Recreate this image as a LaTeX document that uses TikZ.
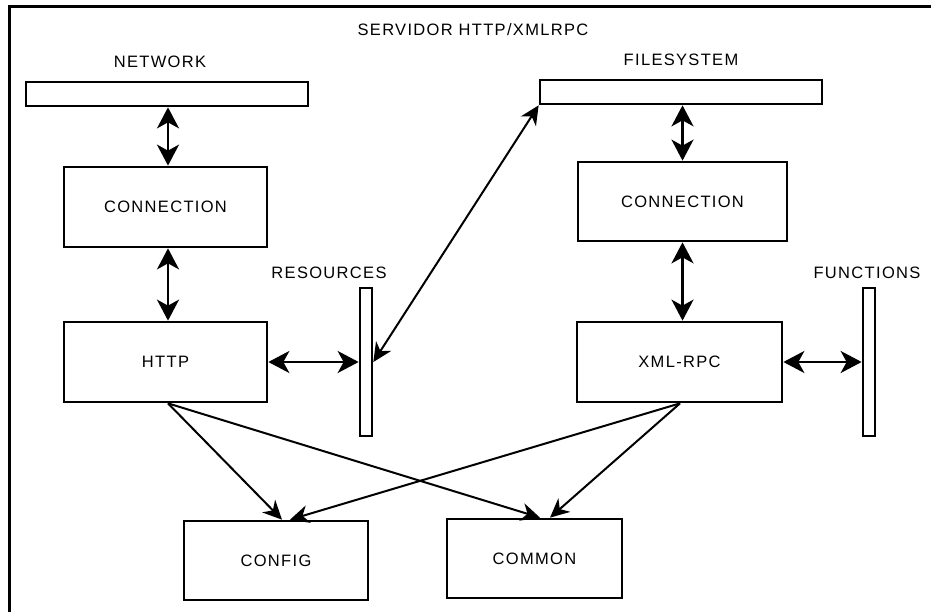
\documentclass[tikz,border=0pt]{standalone}
\usepackage{fontspec}
\setmainfont{Liberation Sans}[LetterSpace=8]
\usetikzlibrary{arrows.meta}
\tikzset{
  box/.style={draw, line width=2.7pt, rectangle, inner sep=0pt, font=\fontsize{16.5}{18}\selectfont},
  lbl/.style={inner sep=0pt, font=\fontsize{16.5}{18}\selectfont},
  dbl/.style={line width=2.6pt, {Stealth[length=21pt,width=22pt,inset=6pt]}-{Stealth[length=21pt,width=22pt,inset=6pt]}},
  dbl2/.style={line width=2pt, {Stealth[length=19pt,width=18pt,inset=6pt]}-{Stealth[length=19pt,width=18pt,inset=6pt]}},
  one/.style={line width=2pt, -{Stealth[length=19pt,width=18pt,inset=6pt]}}
}
\begin{document}
\begin{tikzpicture}[x=1pt,y=-1pt]
\useasboundingbox (0,0) rectangle (931,612);
\draw[line width=3pt] (9.5,612) -- (9.5,6.5) -- (931,6.5);
\node[lbl] (title) at (473,30) {SERVIDOR HTTP/XMLRPC};
\node[lbl] (netl) at (160,62) {NETWORK};
\node[lbl] (fsl) at (681,60) {FILESYSTEM};
\node[lbl] (resl) at (329,273) {RESOURCES};
\node[lbl] (funl) at (867,273) {FUNCTIONS};
\node[box, minimum width=282pt, minimum height=24pt] (net) at (167,94) {};
\node[box, minimum width=282pt, minimum height=24pt] (fs) at (681,92) {};
\node[box, minimum width=203pt, minimum height=80pt] (conn1) at (165.5,207) {CONNECTION};
\node[box, minimum width=209pt, minimum height=79pt] (conn2) at (682.5,201.5) {CONNECTION};
\node[box, minimum width=203pt, minimum height=80pt] (http) at (165.5,362) {HTTP};
\node[box, minimum width=205pt, minimum height=80pt] (xml) at (679.5,362) {XML-RPC};
\node[box, minimum width=12pt, minimum height=148pt] (res) at (366,362) {};
\node[box, minimum width=12pt, minimum height=148pt] (fun) at (869,362) {};
\node[box, minimum width=184pt, minimum height=79pt] (config) at (276,560.5) {CONFIG};
\node[box, minimum width=175pt, minimum height=79pt] (common) at (534.5,558.5) {COMMON};
\coordinate (a1) at ([xshift=2.5pt]conn1.north);
\draw[dbl] (a1) -- (a1 |- net.south);
\coordinate (a2) at ([xshift=2.5pt]conn1.south);
\draw[dbl] (a2) -- (a2 |- http.north);
\draw[dbl] (http.east) -- (res.west);
\draw[dbl2] (res.east) -- (fs.south west);
\draw[dbl] (conn2.north) -- (conn2.north |- fs.south);
\draw[dbl] (conn2.south) -- (conn2.south |- xml.north);
\draw[dbl] (xml.east) -- (fun.west);
\coordinate (hs) at ([xshift=2.5pt]http.south);
\coordinate (xs) at ([xshift=0.5pt]xml.south);
\draw[one] (hs) -- ([xshift=6pt]config.north);
\draw[one] (hs) -- ([xshift=5.5pt]common.north);
\draw[one] (xs) -- ([xshift=14pt]config.north);
\draw[one] (xs) -- ([xshift=15.5pt]common.north);
\end{tikzpicture}
\end{document}
